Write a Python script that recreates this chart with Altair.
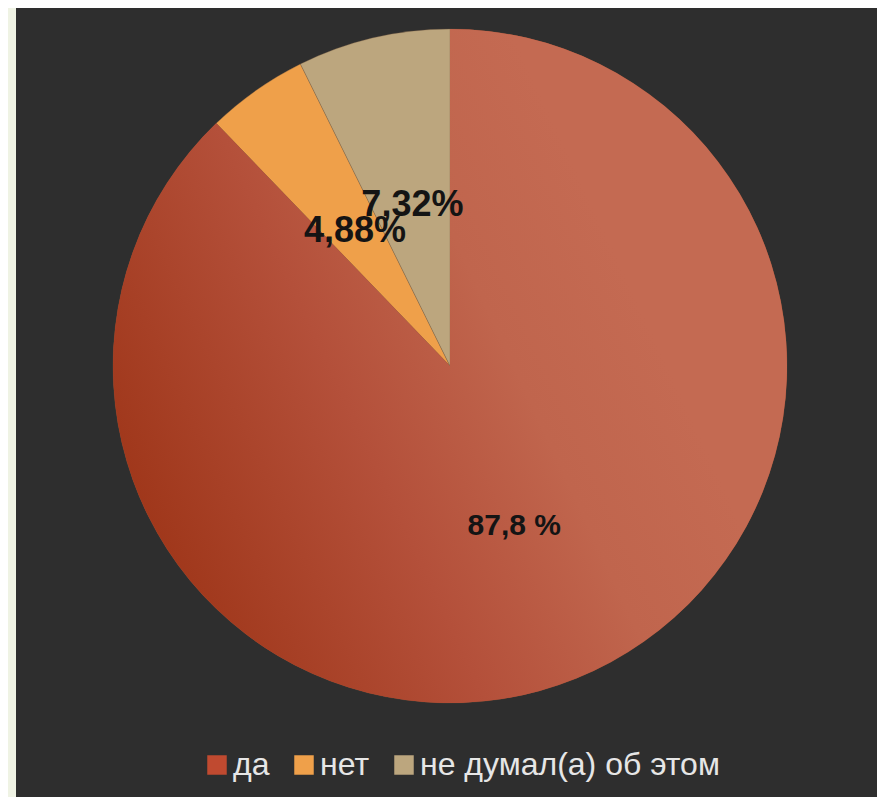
import altair as alt
import pandas as pd

categories = ["да", "нет", "не думал(а) об этом"]
values = [87.8, 4.88, 7.32]
labels = ["87,8 %", "4,88%", "7,32%"]
order = [1, 2, 3]

df = pd.DataFrame({"cat": categories, "value": values, "label": labels, "idx": order})

colors = ["#c04a30", "#efa04a", "#bca67e"]

W, H = 861, 789
CX, CY = 434, 358
R = 337

theta = alt.Theta("value:Q", stack=True)
ordr = alt.Order("idx:Q")

base = alt.Chart(df)

arcs = base.mark_arc(outerRadius=R, stroke="#7a5a40", strokeWidth=0.6, strokeOpacity=0.5).encode(
    theta=theta,
    order=ordr,
    x=alt.value(CX),
    y=alt.value(CY),
    color=alt.Color(
        "cat:N",
        scale=alt.Scale(domain=categories, range=colors),
        sort=categories,
        legend=alt.Legend(
            title=None,
            orient="none",
            direction="horizontal",
            legendX=185,
            legendY=741,
            symbolType="square",
            symbolSize=380,
            symbolStrokeWidth=0,
            labelFontSize=32,
            labelFont="Liberation Sans",
            labelColor="#e6e6e6",
            labelOffset=0,
            columnPadding=18,
            padding=0,
            labelLimit=400,
        ),
    ),
)

gradient = {
    "gradient": "linear",
    "x1": 0.05, "y1": 0.8, "x2": 0.8, "y2": 0.45,
    "stops": [
        {"offset": 0, "color": "#9e3518"},
        {"offset": 0.45, "color": "#b4503a"},
        {"offset": 0.75, "color": "#c0654d"},
        {"offset": 1, "color": "#c46a52"},
    ],
}

overlay = base.mark_arc(outerRadius=R, fill=gradient).encode(
    theta=theta,
    order=ordr,
    x=alt.value(CX),
    y=alt.value(CY),
    fillOpacity=alt.condition("datum.cat == 'да'", alt.value(1), alt.value(0)),
)

def text_layer(radius, size, test):
    return base.mark_text(
        font="Liberation Sans", fontWeight="bold", color="#141414",
        baseline="middle", align="center", radius=radius, size=size,
    ).encode(
        theta=theta,
        order=ordr,
        x=alt.value(CX),
        y=alt.value(CY),
        opacity=alt.condition(test, alt.value(1), alt.value(0)),
        text="label:N",
    )

text_big = text_layer(172, 30, "datum.cat == 'да'")
text_small = text_layer(165, 36, "datum.cat != 'да'")

chart = (
    alt.layer(arcs, overlay, text_big, text_small)
    .properties(
        width=W,
        height=H,
        background="#eff3e4",
        padding={"left": 8, "top": 0, "right": 0, "bottom": 0},
    )
    .configure_view(fill="#2e2e2e", stroke=None)
)

chart.save("out.html", embed_options={"renderer": "svg", "actions": False})
